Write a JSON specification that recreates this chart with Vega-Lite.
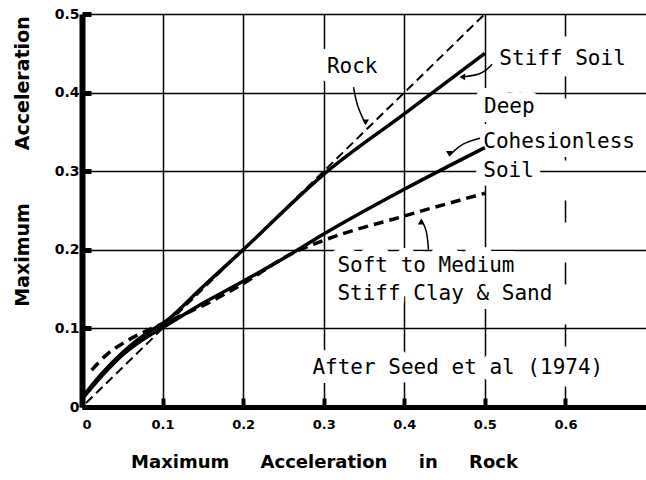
{
  "$schema": "https://vega.github.io/schema/vega-lite/v6.json",
  "width": 564,
  "height": 393,
  "autosize": "none",
  "padding": {"left": 82, "top": 14, "right": 0, "bottom": 73},
  "background": "white",
  "config": {"view": {"stroke": null}},
  "datasets": {
    "curves": [
      {"series": "Rock", "x": 0.005, "y": 0.005},
      {"series": "Rock", "x": 0.5, "y": 0.5},
      {"series": "Stiff Soil", "x": 0.0, "y": 0.012},
      {"series": "Stiff Soil", "x": 0.025, "y": 0.043},
      {"series": "Stiff Soil", "x": 0.05, "y": 0.069},
      {"series": "Stiff Soil", "x": 0.085, "y": 0.097},
      {"series": "Stiff Soil", "x": 0.1, "y": 0.106},
      {"series": "Stiff Soil", "x": 0.15, "y": 0.153},
      {"series": "Stiff Soil", "x": 0.2, "y": 0.2},
      {"series": "Stiff Soil", "x": 0.3, "y": 0.296},
      {"series": "Stiff Soil", "x": 0.4, "y": 0.373},
      {"series": "Stiff Soil", "x": 0.5, "y": 0.45},
      {"series": "Deep Cohesionless Soil", "x": 0.0, "y": 0.01},
      {"series": "Deep Cohesionless Soil", "x": 0.025, "y": 0.04},
      {"series": "Deep Cohesionless Soil", "x": 0.05, "y": 0.066},
      {"series": "Deep Cohesionless Soil", "x": 0.085, "y": 0.092},
      {"series": "Deep Cohesionless Soil", "x": 0.1, "y": 0.101},
      {"series": "Deep Cohesionless Soil", "x": 0.15, "y": 0.132},
      {"series": "Deep Cohesionless Soil", "x": 0.2, "y": 0.16},
      {"series": "Deep Cohesionless Soil", "x": 0.26, "y": 0.195},
      {"series": "Deep Cohesionless Soil", "x": 0.3, "y": 0.22},
      {"series": "Deep Cohesionless Soil", "x": 0.4, "y": 0.277},
      {"series": "Deep Cohesionless Soil", "x": 0.5, "y": 0.33},
      {"series": "Soft to Medium Stiff Clay & Sand", "x": 0.012, "y": 0.047},
      {"series": "Soft to Medium Stiff Clay & Sand", "x": 0.03, "y": 0.066},
      {"series": "Soft to Medium Stiff Clay & Sand", "x": 0.054, "y": 0.083},
      {"series": "Soft to Medium Stiff Clay & Sand", "x": 0.08, "y": 0.097},
      {"series": "Soft to Medium Stiff Clay & Sand", "x": 0.1, "y": 0.106},
      {"series": "Soft to Medium Stiff Clay & Sand", "x": 0.15, "y": 0.129},
      {"series": "Soft to Medium Stiff Clay & Sand", "x": 0.2, "y": 0.157},
      {"series": "Soft to Medium Stiff Clay & Sand", "x": 0.26, "y": 0.195},
      {"series": "Soft to Medium Stiff Clay & Sand", "x": 0.3, "y": 0.212},
      {"series": "Soft to Medium Stiff Clay & Sand", "x": 0.4, "y": 0.243},
      {"series": "Soft to Medium Stiff Clay & Sand", "x": 0.5, "y": 0.272}
    ],
    "arrows": [
      {"arrow": "rock", "x": 0.337, "y": 0.407},
      {"arrow": "rock", "x": 0.341, "y": 0.383},
      {"arrow": "rock", "x": 0.352, "y": 0.36},
      {"arrow": "stiff", "x": 0.509, "y": 0.436},
      {"arrow": "stiff", "x": 0.497, "y": 0.423},
      {"arrow": "stiff", "x": 0.472, "y": 0.42},
      {"arrow": "cohesionless", "x": 0.494, "y": 0.342},
      {"arrow": "cohesionless", "x": 0.472, "y": 0.336},
      {"arrow": "cohesionless", "x": 0.456, "y": 0.32},
      {"arrow": "clay", "x": 0.43, "y": 0.2},
      {"arrow": "clay", "x": 0.428, "y": 0.226},
      {"arrow": "clay", "x": 0.421, "y": 0.238}
    ],
    "heads": [
      {"arrow": "rock", "dir": "down", "x": 0.352, "y": 0.362},
      {"arrow": "stiff", "dir": "left", "x": 0.472, "y": 0.42},
      {"arrow": "cohesionless", "dir": "down", "x": 0.456, "y": 0.322},
      {"arrow": "clay", "dir": "up", "x": 0.421, "y": 0.236}
    ],
    "labels": [
      {"text": "Rock", "x": 0.304, "y": 0.433},
      {"text": "Stiff Soil", "x": 0.518, "y": 0.443},
      {"text": "Deep", "x": 0.499, "y": 0.382},
      {"text": "Cohesionless", "x": 0.498, "y": 0.337},
      {"text": "Soil", "x": 0.498, "y": 0.3},
      {"text": "Soft to Medium", "x": 0.317, "y": 0.179},
      {"text": "Stiff Clay & Sand", "x": 0.317, "y": 0.144},
      {"text": "After Seed et al (1974)", "x": 0.286, "y": 0.05}
    ]
  },
  "encoding": {
    "x": {
      "field": "x", "type": "quantitative",
      "scale": {"domain": [0, 0.7], "nice": false, "zero": false},
      "axis": {
        "title": "Maximum\u00a0\u00a0\u00a0\u00a0\u00a0Acceleration\u00a0\u00a0\u00a0\u00a0\u00a0in\u00a0\u00a0\u00a0\u00a0\u00a0Rock",
        "values": [0, 0.1, 0.2, 0.3, 0.4, 0.5, 0.6],
        "format": ".1~f",
        "grid": true,
        "gridColor": "black",
        "gridWidth": 1.5,
        "gridOpacity": {"condition": {"test": "datum.value == 0", "value": 0}, "value": 1},
        "gridDash": {"condition": {"test": "datum.value > 0.55", "value": [22, 40]}, "value": []},
        "domainColor": "black",
        "domainWidth": 5,
        "tickColor": "black",
        "tickWidth": 4,
        "tickSize": -9,
        "labelFont": "DejaVu Sans",
        "labelFontWeight": "bold",
        "labelFontSize": 13,
        "labelColor": "black",
        "labelPadding": 20,
        "titleFont": "DejaVu Sans",
        "titleFontWeight": "bold",
        "titleFontSize": 18,
        "titleColor": "black",
        "titleX": 242,
        "titleY": 60,
        "titleBaseline": "alphabetic"
      }
    },
    "y": {
      "field": "y", "type": "quantitative",
      "scale": {"domain": [0, 0.5], "nice": false, "zero": false},
      "axis": {
        "title": "Maximum\u00a0\u00a0\u00a0\u00a0\u00a0\u00a0\u00a0\u00a0Acceleration",
        "values": [0, 0.1, 0.2, 0.3, 0.4, 0.5],
        "format": ".1~f",
        "grid": true,
        "gridColor": "black",
        "gridWidth": 1.5,
        "gridOpacity": {"condition": {"test": "datum.value == 0", "value": 0}, "value": 1},
        "domainColor": "black",
        "domainWidth": 6,
        "tickColor": "black",
        "tickWidth": 5,
        "tickSize": -9,
        "labelFont": "DejaVu Sans",
        "labelFontWeight": "bold",
        "labelFontSize": 14,
        "labelColor": "black",
        "labelPadding": 12,
        "titleFont": "DejaVu Sans",
        "titleFontWeight": "bold",
        "titleFontSize": 19,
        "titleColor": "black",
        "titleAngle": -90,
        "titleX": -60,
        "titleY": 147,
        "titleAlign": "center",
        "titleBaseline": "middle"
      }
    }
  },
  "layer": [
    {
      "data": {"name": "labels"},
      "mark": {"type": "text", "align": "left", "baseline": "middle", "font": "DejaVu Sans Mono", "fontSize": 21, "fill": "white", "stroke": "white", "strokeWidth": 18, "strokeJoin": "round"},
      "encoding": {"text": {"field": "text"}}
    },
    {
      "data": {"name": "curves"},
      "transform": [{"filter": "datum.series == 'Rock'"}],
      "mark": {"type": "line", "color": "black", "strokeWidth": 2, "strokeDash": [9, 5]},
      "encoding": {}
    },
    {
      "data": {"name": "curves"},
      "transform": [{"filter": "datum.series == 'Stiff Soil' || datum.series == 'Deep Cohesionless Soil'"}],
      "mark": {"type": "line", "color": "black", "strokeWidth": 3.5, "interpolate": "monotone"},
      "encoding": {"detail": {"field": "series"}}
    },
    {
      "data": {"name": "curves"},
      "transform": [{"filter": "datum.series == 'Soft to Medium Stiff Clay & Sand'"}],
      "mark": {"type": "line", "color": "black", "strokeWidth": 3.5, "strokeDash": [10, 6], "interpolate": "monotone"},
      "encoding": {}
    },
    {
      "data": {"name": "arrows"},
      "mark": {"type": "line", "color": "black", "strokeWidth": 1.5, "interpolate": "basis"},
      "encoding": {"detail": {"field": "arrow"}}
    },
    {
      "data": {"name": "heads"},
      "mark": {"type": "point", "filled": true, "color": "black", "size": 45, "opacity": 1},
      "encoding": {
        "shape": {"field": "dir", "type": "nominal", "legend": null,
          "scale": {"domain": ["down", "left", "up"], "range": ["triangle-down", "triangle-left", "triangle-up"]}}
      }
    },
    {
      "data": {"name": "labels"},
      "mark": {"type": "text", "align": "left", "baseline": "middle", "font": "DejaVu Sans Mono", "fontSize": 21, "color": "black"},
      "encoding": {"text": {"field": "text"}}
    }
  ]
}
